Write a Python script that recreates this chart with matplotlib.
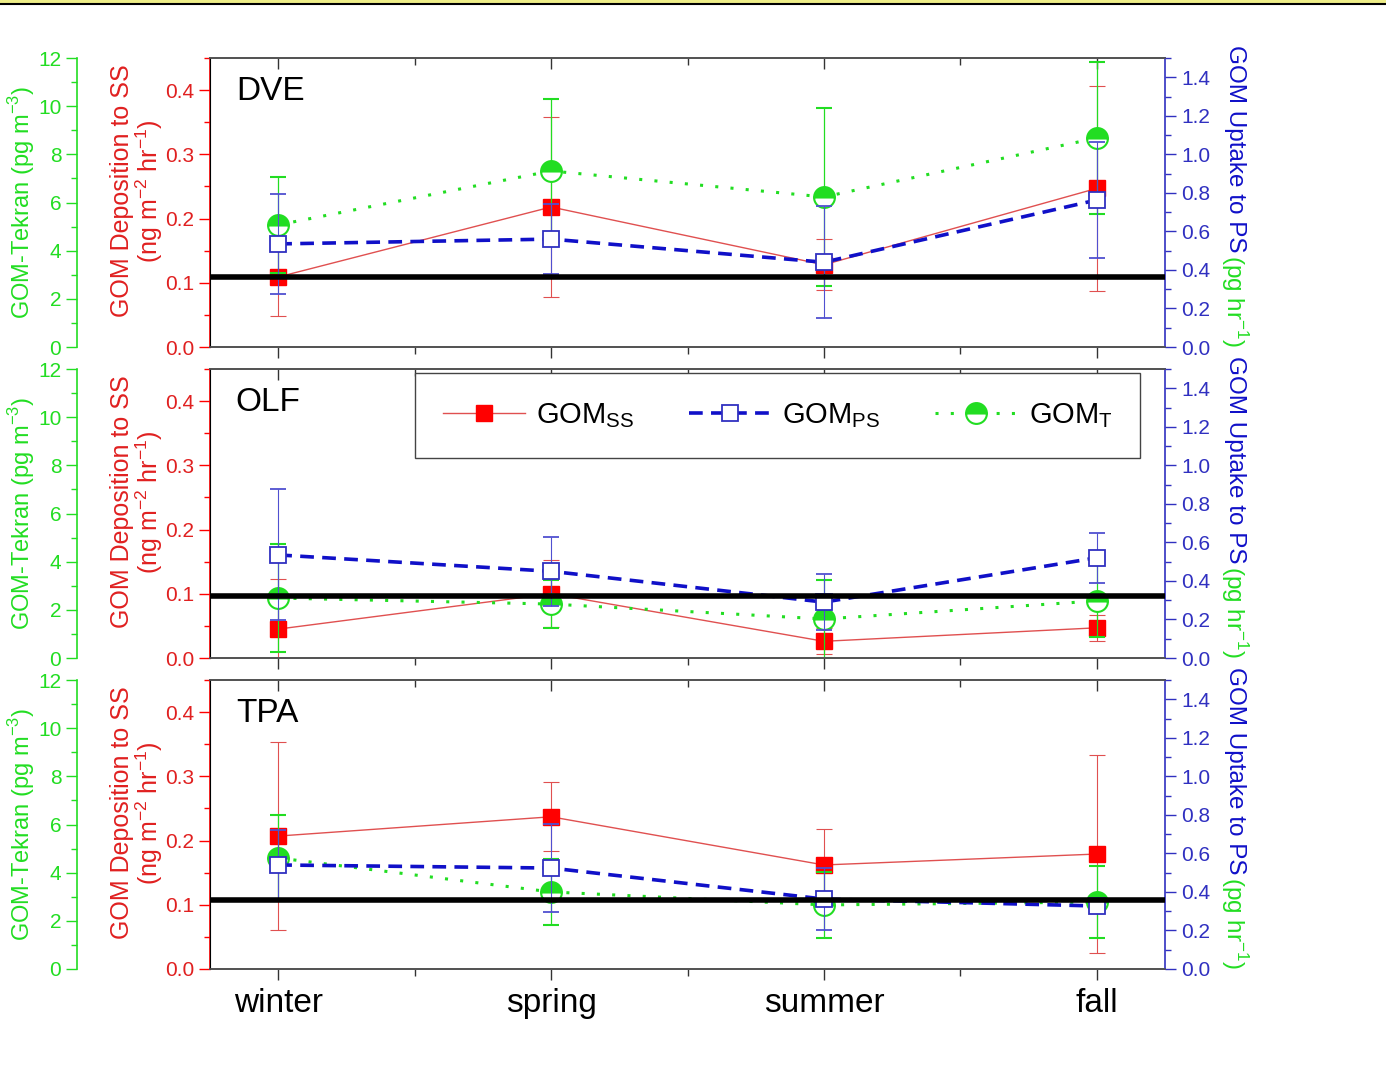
import matplotlib
matplotlib.use("Agg")
from matplotlib import pyplot as plt
from matplotlib.lines import Line2D
from matplotlib.patches import Rectangle
from matplotlib.ticker import MultipleLocator
import numpy as np

plt.rcParams['font.family'] = ['Liberation Sans', 'DejaVu Sans']
plt.rcParams['mathtext.fontset'] = 'custom'
plt.rcParams['mathtext.rm'] = 'Liberation Sans'

seasons = ['winter', 'spring', 'summer', 'fall']
sites = ['DVE', 'OLF', 'TPA']

# GOM deposition to surrogate surface (ng m-2 hr-1), red axis
ss_vals = [[0.109, 0.218, 0.128, 0.247],
           [0.045, 0.100, 0.026, 0.047],
           [0.207, 0.237, 0.162, 0.179]]
ss_errs = [[0.060, 0.140, 0.040, 0.160],
           [0.078, 0.052, 0.020, 0.020],
           [0.146, 0.054, 0.056, 0.154]]

# GOM uptake to passive sampler (pg hr-1), blue axis
ps_vals = [[0.535, 0.560, 0.440, 0.763],
           [0.535, 0.450, 0.290, 0.520],
           [0.540, 0.524, 0.363, 0.327]]
ps_errs = [[0.26, 0.18, 0.29, 0.30],
           [0.34, 0.18, 0.145, 0.13],
           [0.18, 0.23, 0.16, 0.03]]

# GOM Tekran (pg m-3), green axis
t_vals = [[5.07, 7.31, 6.23, 8.68],
          [2.49, 2.24, 1.62, 2.37],
          [4.61, 3.20, 2.66, 2.78]]
t_errs = [[2.0, 3.0, 3.7, 3.15],
          [2.25, 1.0, 1.6, 1.5],
          [1.8, 1.37, 1.37, 1.5]]

# thick black reference line, in blue-axis units
ref_line = [0.363, 0.322, 0.358]

RED = '#ff0000'
RED_LINE = '#e05050'
RED_TXT = '#e02020'
BLUE = '#1010c8'
BLUE_MK = '#3030c0'
GREEN = '#22dd22'

fig = plt.figure(figsize=(13.86, 10.73), dpi=100)

# yellow strip + rule at the very top
fig.add_artist(Rectangle((0, 1 - 3 / 1073), 1, 3 / 1073, transform=fig.transFigure,
                         facecolor='#eeee88', edgecolor='none'))
fig.add_artist(Line2D([0, 1], [1 - 4 / 1073, 1 - 4 / 1073], transform=fig.transFigure,
                      color='black', lw=1.5))

x = np.arange(len(seasons))
left = 210 / 1386
width = 955 / 1386
height = 289 / 1073
bottoms = [1 - 347 / 1073, 1 - 658 / 1073, 1 - 969 / 1073]

legend_handles = None

for i, site in enumerate(sites):
    ax = fig.add_axes([left, bottoms[i], width, height])
    axg = ax.twinx()
    axb = ax.twinx()

    # red: surrogate surface
    eb_ss = ax.errorbar(x, ss_vals[i], yerr=ss_errs[i], color=RED_LINE, lw=1.0,
                        marker='s', ms=12, mfc=RED, mec=RED, ecolor=RED_LINE,
                        elinewidth=0.8, capsize=6, capthick=0.8)
    # green: Tekran
    eb_t = axg.errorbar(x, t_vals[i], yerr=t_errs[i], color=GREEN, lw=2.2,
                        ls=(0, (1, 4)), marker='o', ms=15, fillstyle='top',
                        mfc=GREEN, mfcalt='white', mec=GREEN, mew=1.5,
                        ecolor=GREEN, elinewidth=0.9, capsize=6, capthick=0.9)
    # blue: passive sampler
    eb_ps = axb.errorbar(x, ps_vals[i], yerr=ps_errs[i], color=BLUE, lw=2.6,
                         ls=(0, (3.8, 2.3)), marker='s', ms=12, mfc='white',
                         mec=BLUE_MK, mew=1.3, ecolor='#5050d0',
                         elinewidth=0.8, capsize=6, capthick=0.8)
    axb.axhline(ref_line[i], color='black', lw=4, zorder=10)

    # x axis: bottom ticks outward on host, top ticks inward on the green twin
    ax.set_xlim(-0.25, 3.25)
    ax.set_xticks(x)
    ax.xaxis.set_minor_locator(MultipleLocator(0.5))
    ax.tick_params(axis='x', which='both', direction='out', top=False,
                   colors='#333333')
    ax.tick_params(axis='x', which='major', length=8, width=1.0, pad=6,
                   labelsize=24, labelcolor='black')
    ax.tick_params(axis='x', which='minor', length=5, width=1.0)
    if i == 2:
        ax.set_xticklabels(seasons)
    else:
        ax.set_xticklabels([])
    axg.xaxis.set_visible(True)
    axg.tick_params(axis='x', which='both', direction='in', top=True,
                    bottom=False, labeltop=False, labelbottom=False,
                    colors='#333333', width=1.0)
    axg.tick_params(axis='x', which='major', length=8)
    axg.tick_params(axis='x', which='minor', length=5)
    for a in (ax, axg, axb):
        a.spines['top'].set_color('#555555')
        a.spines['bottom'].set_color('#555555')
        a.spines['top'].set_linewidth(1.2)
        a.spines['bottom'].set_linewidth(1.2)

    # red left axis
    ax.set_ylim(0, 0.45)
    ax.yaxis.set_major_locator(MultipleLocator(0.1))
    ax.yaxis.set_minor_locator(MultipleLocator(0.05))
    ax.yaxis.set_major_formatter('{x:.1f}')
    ax.spines['left'].set_color(RED)
    ax.spines['left'].set_linewidth(1.2)
    ax.spines['right'].set_visible(False)
    ax.tick_params(axis='y', which='both', direction='out', colors=RED,
                   labelcolor=RED_TXT, width=1.0)
    ax.tick_params(axis='y', which='major', length=8, labelsize=15)
    ax.tick_params(axis='y', which='minor', length=4)
    ax.text(-0.076, 0.54, 'GOM Deposition to SS\n(ng m$^{-2}$ hr$^{-1}$)',
            transform=ax.transAxes, rotation=90, ha='center', va='center',
            fontsize=18, color=RED_TXT, linespacing=1.0)

    # green offset left axis
    axg.set_ylim(0, 12)
    axg.yaxis.set_major_locator(MultipleLocator(2))
    axg.yaxis.set_minor_locator(MultipleLocator(1))
    axg.yaxis.set_ticks_position('left')
    axg.yaxis.set_label_position('left')
    axg.spines['left'].set_position(('axes', -0.139))
    axg.spines['left'].set_visible(True)
    axg.spines['left'].set_color(GREEN)
    axg.spines['left'].set_linewidth(1.2)
    axg.spines['right'].set_visible(False)
    axg.tick_params(axis='y', which='both', direction='out', colors=GREEN,
                    width=1.0)
    axg.tick_params(axis='y', which='major', length=8, labelsize=15)
    axg.tick_params(axis='y', which='minor', length=4)
    axg.text(-0.197, 0.5, 'GOM-Tekran (pg m$^{-3}$)', transform=axg.transAxes,
             rotation=90, ha='center', va='center', fontsize=17, color=GREEN)

    # blue right axis
    axb.set_ylim(0, 1.5)
    axb.yaxis.set_major_locator(MultipleLocator(0.2))
    axb.yaxis.set_minor_locator(MultipleLocator(0.1))
    axb.yaxis.set_major_formatter('{x:.1f}')
    axb.spines['right'].set_color(BLUE_MK)
    axb.spines['right'].set_linewidth(1.2)
    axb.tick_params(axis='y', which='both', direction='out', colors=BLUE_MK,
                    width=1.0)
    axb.tick_params(axis='y', which='major', length=8, labelsize=15)
    axb.tick_params(axis='y', which='minor', length=4)
    axb.text(1.073, 1.045, 'GOM Uptake to PS ', transform=axb.transAxes,
             rotation=-90, ha='center', va='top', fontsize=17.5, color=BLUE)
    axb.text(1.073, 0.0, '(pg hr$^{-1}$)', transform=axb.transAxes,
             rotation=-90, ha='center', va='bottom', fontsize=17.5, color=GREEN)

    ax.text(0.027, 0.885, site, transform=ax.transAxes, ha='left',
            va='center', fontsize=24)

    if legend_handles is None:
        legend_handles = [eb_ss[0], eb_ps[0], eb_t[0]]
    if i == 1:
        leg = axb.legend(legend_handles,
                         ['GOM$_\\mathregular{SS}$', 'GOM$_\\mathregular{PS}$',
                          'GOM$_\\mathregular{T}$'],
                         loc='upper left', bbox_to_anchor=(0.215, 0.713, 0.759, 0.272),
                         mode='expand', ncol=3, fontsize=21, numpoints=1,
                         handlelength=2.8, handletextpad=0.4, columnspacing=1.0,
                         fancybox=False, framealpha=1, edgecolor='#444444',
                         borderaxespad=0, borderpad=0.95)
        leg.get_frame().set_linewidth(1.0)
        leg.set_zorder(20)

plt.savefig('out.png', dpi=100)
